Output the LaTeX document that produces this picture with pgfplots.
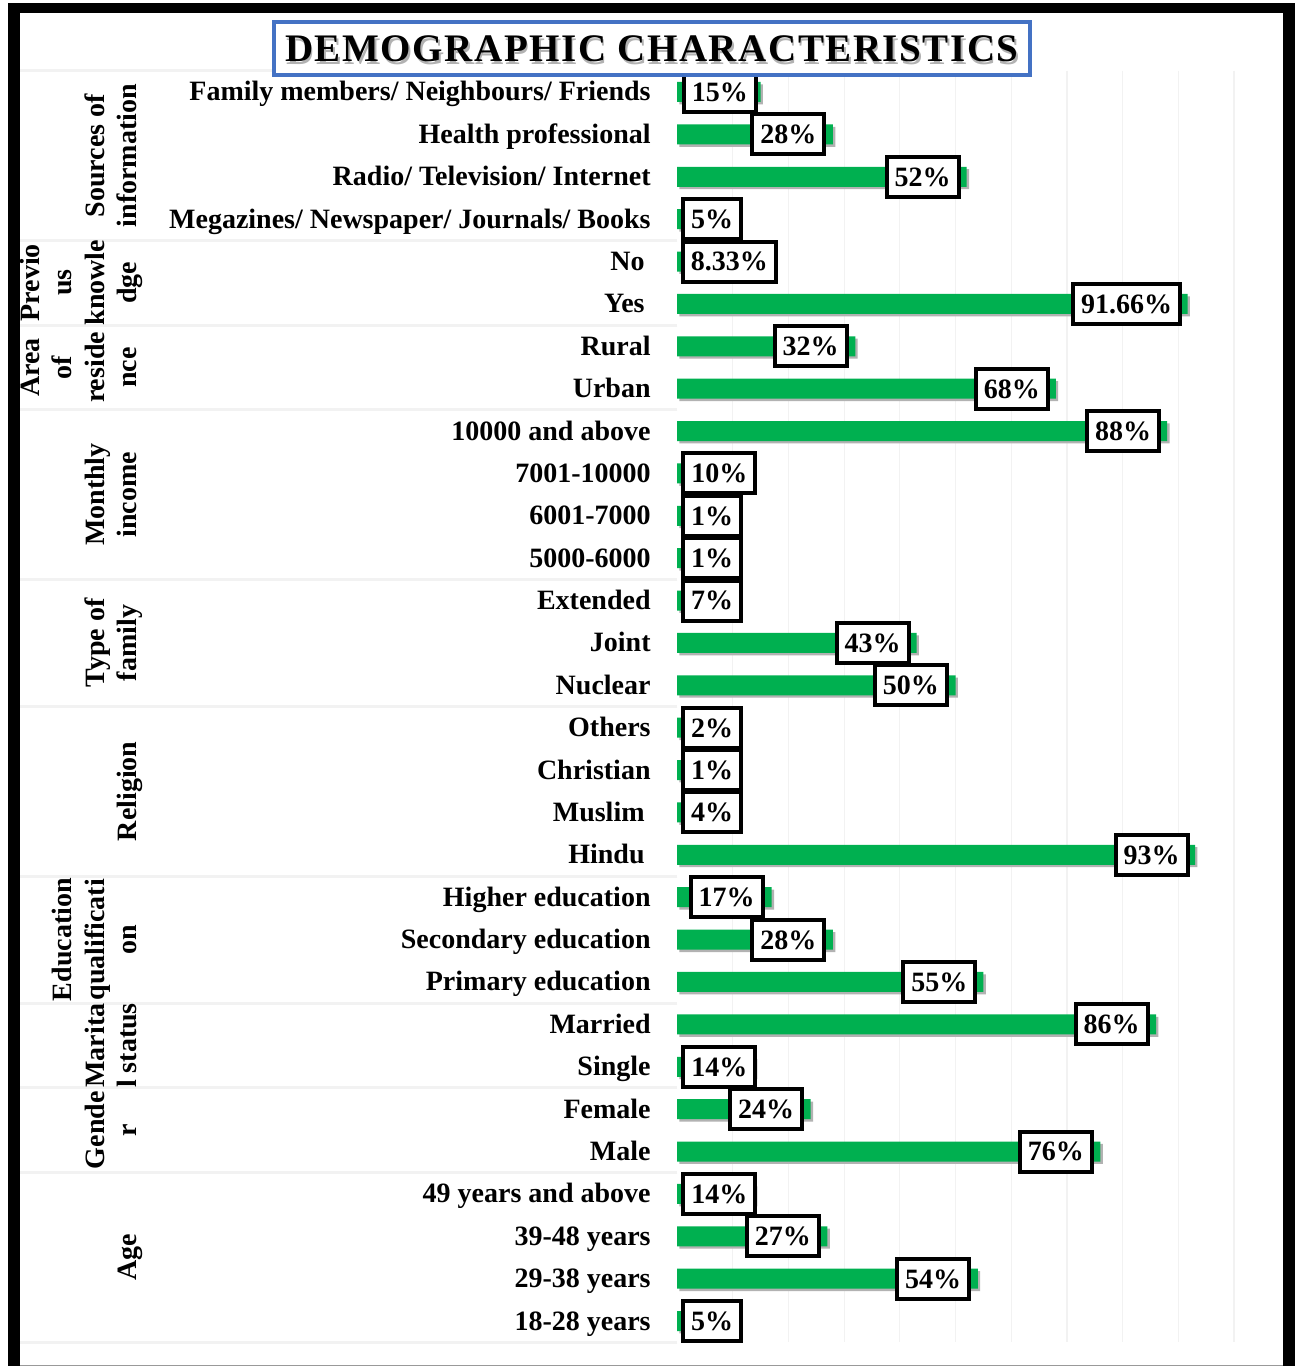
\documentclass[border=0pt]{standalone}
\usepackage{pgfplots}
\pgfplotsset{compat=1.18}
\usepackage{pgfplotstable}
\usepackage{fontspec}
\setmainfont{Liberation Serif}
\newfontfamily\titlefont[LetterSpace=4]{Liberation Serif}
\definecolor{barg}{HTML}{00B050}
\definecolor{tblue}{HTML}{4472C4}
\definecolor{sepc}{HTML}{F2F2F2}
\pgfplotstableread{
y v lx
0 15 7.7
1 28 20.0
2 52 44.1
3 5 6.3
4 8.33 9.4
5 91.66 80.7
6 32 24.0
7 68 60.1
8 88 80.1
9 10 7.6
10 1 6.3
11 1 6.3
12 7 6.3
13 43 35.1
14 50 42.0
15 2 6.3
16 1 6.3
17 4 6.3
18 93 85.2
19 17 8.9
20 28 20.0
21 55 47.1
22 86 78.0
23 14 7.6
24 24 16.0
25 76 68.0
26 14 7.6
27 27 19.0
28 54 46.0
29 5 6.3
}\data
\newcommand{\lf}{\fontsize{14}{16.2}\selectfont\bfseries}
\begin{document}
\begin{tikzpicture}
\begin{scope}[x=0.5pt,y=-0.5pt]
\useasboundingbox (0,0) rectangle (1298,1368);
\fill[white] (0,0) rectangle (1298,1368);
\end{scope}
\begin{axis}[
  at={(338.5pt,-35.4pt)}, anchor=north west,
  scale only axis, width=300.8pt, height=635.7pt,
  xmin=0, xmax=108, ymin=-0.5, ymax=29.5,
  y dir=reverse,
  axis line style={draw=none},
  major tick length=0pt,
  xtick={10,20,...,100}, xticklabels={},
  xmajorgrids, grid style={color=sepc, line width=0.6pt},
  ytick={0,...,29},
  yticklabels={{Family members/ Neighbours/ Friends},{Health professional},{Radio/ Television/ Internet},{Megazines/ Newspaper/ Journals/ Books},{No\hspace*{3pt}},{Yes\hspace*{3pt}},{Rural},{Urban},{10000 and above},{7001-10000},{6001-7000},{5000-6000},{Extended},{Joint},{Nuclear},{Others},{Christian},{Muslim\hspace*{3pt}},{Hindu\hspace*{3pt}},{Higher education},{Secondary education},{Primary education},{Married},{Single},{Female},{Male},{49 years and above},{39-48 years},{29-38 years},{18-28 years}},
  yticklabel style={font=\lf, anchor=east, inner sep=0pt, xshift=-13pt, text height=11.8pt, text depth=2.8pt},
  clip=false,
]
\pgfplotsinvokeforeach{-0.5,3.5,5.5,7.5,11.5,14.5,18.5,21.5,23.5,25.5,29.5}{
  \draw[sepc, line width=1.5pt] (axis cs:0,#1) -- ++(-328.5pt,0pt);
}
\addplot[xbar, bar width=10pt, fill=barg, draw=none,
  preaction={fill=black!30, draw=none, transform canvas={xshift=1.2pt,yshift=-1.2pt}}]
  table[x=v,y=y]{\data};
\addplot[draw=none, mark=none, point meta=explicit symbolic,
  nodes near coords={\pgfplotspointmeta\%},
  every node near coord/.append style={anchor=center, draw=black, line width=2pt, fill=white,
    font=\lf, inner xsep=4pt, inner ysep=0pt, minimum height=20pt, text height=9.8pt, text depth=0.4pt}]
  table[x=lx,y=y,meta=v]{\data};
\newcommand{\gl}[2]{\node[rotate=90, anchor=south, inner sep=0pt, align=center, font=\lf] at ([xshift=-265.1pt]axis cs:0,#1) {#2\strut};}
\gl{1.5}{Sources of\\information}
\gl{4.5}{Previo\\us\\knowle\\dge}
\gl{6.5}{Area\\of\\reside\\nce}
\gl{9.5}{Monthly\\income}
\gl{13}{Type of\\family}
\gl{16.5}{Religion}
\gl{20}{Education\\qualificati\\on}
\gl{22.5}{Marita\\l status}
\gl{24.5}{Gende\\r}
\gl{27.5}{Age}
\end{axis}
\begin{scope}[x=0.5pt,y=-0.5pt]
\draw[tblue, line width=2pt, fill=white] (274,22) rectangle (1030,75);
\node[text=black!30, font=\titlefont\bfseries\fontsize{19.5}{22}\selectfont] at (653.5,51.5) {DEMOGRAPHIC CHARACTERISTICS};
\node[text=black, font=\titlefont\bfseries\fontsize{19.5}{22}\selectfont] at (652,49) {DEMOGRAPHIC CHARACTERISTICS};
\fill[black] (8,3) rectangle (1295,13);
\fill[black] (8,3) rectangle (20,1366);
\fill[black] (1283,3) rectangle (1295,1366);
\draw[black!40, line width=0.6pt] (20,1365.5) -- (1283,1365.5);
\end{scope}
\end{tikzpicture}
\end{document}
